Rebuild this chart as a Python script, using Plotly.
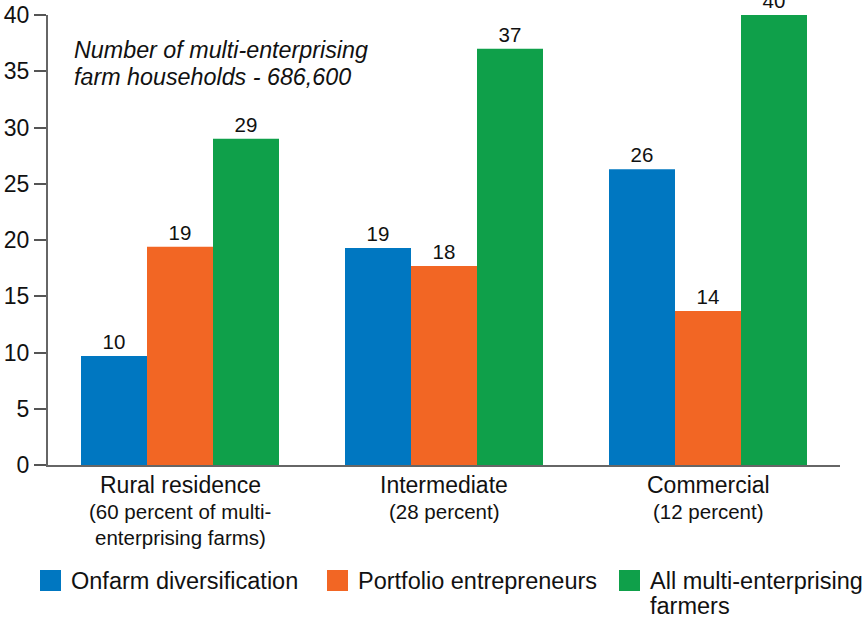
import plotly.graph_objects as go

categories = ["Rural residence", "Intermediate", "Commercial"]
category_notes = ["(60 percent of multi-<br>enterprising farms)", "(28 percent)", "(12 percent)"]
series_names = ["Onfarm diversification", "Portfolio entrepreneurs", "All multi-enterprising<br>farmers"]
onfarm = [9.7, 19.3, 26.3]
portfolio = [19.4, 17.7, 13.7]
all_multi = [29.0, 37.0, 40.0]
onfarm_labels = ["10", "19", "26"]
portfolio_labels = ["19", "18", "14"]
all_multi_labels = ["29", "37", "40"]
y_ticks = [0, 5, 10, 15, 20, 25, 30, 35, 40]
note_text = "Number of multi-enterprising<br>farm households - 686,600"

colors = ["#0077C1", "#F26624", "#0FA04A"]
FONT = "Liberation Sans, Arial, Helvetica, sans-serif"

fig = go.Figure()
for name, vals, labs, col in zip(series_names, [onfarm, portfolio, all_multi],
                                  [onfarm_labels, portfolio_labels, all_multi_labels], colors):
    fig.add_trace(go.Bar(
        x=categories, y=vals, name=name.replace("<br>", " "),
        marker=dict(color=col, line=dict(width=0)),
        text=labs, textposition="outside", cliponaxis=False,
        textfont=dict(size=20.5, color="#111", family=FONT),
        showlegend=False,
    ))

W, H = 867, 617
ml, mr, mt, mb = 48, 27, 15, 152
pw, ph = W - ml - mr, H - mt - mb

def px_x(p):
    return (p - ml) / pw

def px_y(p):
    return (H - mb - p) / ph

annotations = []
for cat, note in zip(categories, category_notes):
    annotations.append(dict(x=cat, xref="x", y=px_y(485), yref="paper", yanchor="middle",
                            text=cat, showarrow=False,
                            font=dict(size=23, color="#111", family=FONT)))
    for i, line in enumerate(note.split("<br>")):
        annotations.append(dict(x=cat, xref="x", y=px_y(512 + 25 * i), yref="paper", yanchor="middle",
                                text=line, showarrow=False,
                                font=dict(size=20.5, color="#111", family=FONT)))

for i, line in enumerate(note_text.split("<br>")):
    annotations.append(dict(x=px_x(72), xref="paper", xanchor="left", y=px_y(50 + 27 * i), yref="paper",
                            yanchor="middle", text="<i>" + line + "</i>", showarrow=False, align="left",
                            font=dict(size=23.3, color="#111", family=FONT)))

shapes = []
sq_x = [40, 327, 619]
txt_x = [69, 356, 648]
for sx, tx, name, col in zip(sq_x, txt_x, series_names, colors):
    shapes.append(dict(type="rect", xref="paper", yref="paper",
                       x0=px_x(sx), x1=px_x(sx + 21), y0=px_y(570), y1=px_y(591),
                       fillcolor=col, line=dict(width=0)))
    for i, line in enumerate(name.split("<br>")):
        annotations.append(dict(x=px_x(tx), xref="paper", xanchor="left", y=px_y(581 + 25 * i), yref="paper",
                                yanchor="middle", text=line, showarrow=False, align="left",
                                font=dict(size=23.5, color="#111", family=FONT)))

fig.update_layout(
    width=W, height=H,
    margin=dict(l=ml, r=mr, t=mt, b=mb, autoexpand=False),
    paper_bgcolor="white", plot_bgcolor="white",
    barmode="group", bargap=0.25, bargroupgap=0,
    font=dict(family=FONT, color="#111"),
    annotations=annotations, shapes=shapes,
    xaxis=dict(showticklabels=False, showline=True, linecolor="#666", linewidth=2,
               ticks="", showgrid=False, zeroline=False, range=[-0.5, 2.5], automargin=False),
    yaxis=dict(range=[0, 40], tickvals=y_ticks, ticks="outside", ticklen=12, tickwidth=1.5,
               tickcolor="#555", showline=True, linecolor="#666", linewidth=2,
               showgrid=False, zeroline=False, automargin=False,
               tickfont=dict(size=23, color="#111", family=FONT)),
)

fig.write_html("out.html", config={"displayModeBar": False},
               post_script="document.body.style.margin='0';document.body.style.overflow='hidden';")
